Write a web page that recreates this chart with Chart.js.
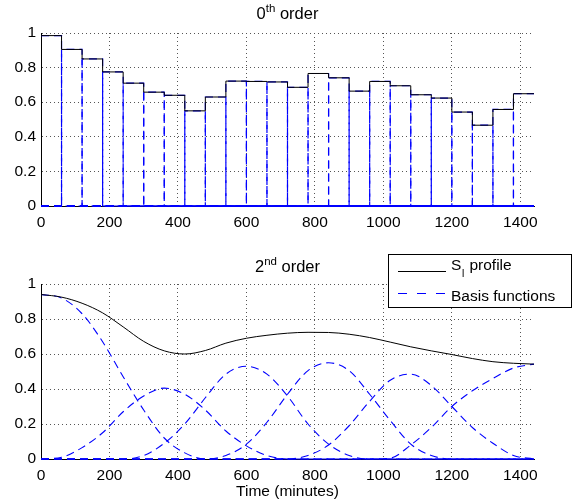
<!DOCTYPE html>
<html>
<head>
<meta charset="utf-8">
<script src="https://cdn.jsdelivr.net/npm/chart.js@4.4.0/dist/chart.umd.min.js"></script>
<style>
  html, body { margin: 0; padding: 0; background: #fff; }
  #wrap { position: relative; width: 574px; height: 504px; }
  canvas { position: absolute; left: 0; width: 574px; height: 252px; }
  #top { top: 0; }
  #bottom { top: 252px; }
</style>
</head>
<body>
<div id="wrap">
  <canvas id="top" width="574" height="252"></canvas>
  <canvas id="bottom" width="574" height="252"></canvas>
</div>
<script>
// 0th order: piecewise constant profile, one value per hour
const stepEdges = [0, 60, 120, 180, 240, 300, 360, 420, 480, 540, 600, 660, 720,
                   780, 840, 900, 960, 1020, 1080, 1140, 1200, 1260, 1320, 1380, 1440];
const stepValues = [0.985, 0.905, 0.85, 0.775, 0.71, 0.658, 0.64, 0.55, 0.63, 0.722, 0.72, 0.717,
                    0.686, 0.766, 0.741, 0.664, 0.72, 0.695, 0.643, 0.624, 0.543, 0.467, 0.558, 0.649];

// 2nd order: values every 60 minutes
const sampleTimes = [0, 60, 120, 180, 240, 300, 360, 420, 480, 540, 600, 660, 720,
                     780, 840, 900, 960, 1020, 1080, 1140, 1200, 1260, 1320, 1380, 1440];
const profile = [0.94, 0.925, 0.89, 0.835, 0.755, 0.672, 0.618, 0.60, 0.62, 0.662, 0.69, 0.707, 0.719,
                 0.724, 0.723, 0.713, 0.694, 0.668, 0.641, 0.618, 0.597, 0.574, 0.556, 0.547, 0.542];
const basis1 = [0.94, 0.92, 0.83, 0.67, 0.47, 0.28, 0.12, 0.035, 0, 0, 0, 0, 0,
                0, 0, 0, 0, 0, 0, 0, 0, 0, 0, 0, 0];
const basis2 = [0, 0.01, 0.065, 0.15, 0.27, 0.36, 0.405, 0.37, 0.28, 0.16, 0.075, 0.02, 0,
                0, 0, 0, 0, 0, 0, 0, 0, 0, 0, 0, 0];
const basis3 = [0, 0, 0, 0, 0, 0.02, 0.09, 0.2, 0.35, 0.485, 0.53, 0.485, 0.36,
                0.2, 0.085, 0.02, 0, 0, 0, 0, 0, 0, 0, 0, 0];
const basis4 = [0, 0, 0, 0, 0, 0, 0, 0, 0, 0.02, 0.085, 0.21, 0.37,
                0.505, 0.55, 0.505, 0.37, 0.22, 0.085, 0.02, 0, 0, 0, 0, 0];
const basis5 = [0, 0, 0, 0, 0, 0, 0, 0, 0, 0, 0, 0, 0,
                0.02, 0.08, 0.19, 0.33, 0.45, 0.485, 0.42, 0.30, 0.18, 0.09, 0.02, 0];
const basis6 = [0, 0, 0, 0, 0, 0, 0, 0, 0, 0, 0, 0, 0,
                0, 0, 0, 0, 0.005, 0.08, 0.18, 0.30, 0.39, 0.46, 0.52, 0.542];

const xTicks = [0, 200, 400, 600, 800, 1000, 1200, 1400];
const yTicks = [0, 0.2, 0.4, 0.6, 0.8, 1];

const FONT = '"Liberation Sans", Arial, Helvetica, sans-serif';
const BLUE = '#0000ff';
Chart.defaults.font.family = FONT;
Chart.defaults.font.size = 15.5;
Chart.defaults.color = '#000';

function scales(xHeight, withLabel) {
  return {
    x: {
      type: 'linear', min: 0, max: 1440,
      afterBuildTicks: s => { s.ticks = xTicks.map(v => ({ value: v })); },
      afterFit: s => { s.height = xHeight; },
      grid: { color: '#555', lineWidth: 1, drawTicks: false },
      border: { color: '#000', width: 1, dash: [1, 3] },
      ticks: { padding: 7, maxRotation: 0, autoSkip: false, color: '#000', callback: v => String(v) },
      title: { display: withLabel, text: 'Time (minutes)', color: '#000',
               font: { size: 15.5 }, padding: { top: 0, bottom: 3 } }
    },
    y: {
      min: 0, max: 1,
      afterBuildTicks: s => { s.ticks = yTicks.map(v => ({ value: v })); },
      afterFit: s => { s.width = 41; },
      grid: { color: '#555', lineWidth: 1, drawTicks: false },
      border: { color: '#000', width: 1, dash: [1, 3] },
      ticks: { padding: 5, color: '#000', callback: v => String(v) }
    }
  };
}

// title with a superscript, e.g. 0^th order
function supTitle(base, sup, rest, baseline) {
  return {
    id: 'supTitle',
    afterDraw(chart) {
      const ctx = chart.ctx;
      const big = '16.5px ' + FONT, small = '11.5px ' + FONT;
      ctx.save();
      ctx.fillStyle = '#000';
      ctx.textBaseline = 'alphabetic';
      ctx.textAlign = 'left';
      ctx.font = big;
      const w1 = ctx.measureText(base).width, w3 = ctx.measureText(rest).width;
      ctx.font = small;
      const w2 = ctx.measureText(sup).width;
      const { left, right } = chart.chartArea;
      let x = (left + right) / 2 - (w1 + w2 + w3) / 2;
      ctx.font = big; ctx.fillText(base, x, baseline); x += w1;
      ctx.font = small; ctx.fillText(sup, x, baseline - 7); x += w2;
      ctx.font = big; ctx.fillText(rest, x, baseline);
      ctx.restore();
    }
  };
}

const legendBox = {
  id: 'legendBox',
  afterDraw(chart) {
    const ctx = chart.ctx;
    ctx.save();
    ctx.fillStyle = '#fff';
    ctx.fillRect(388.5, 2.5, 183, 53);
    ctx.strokeStyle = '#000';
    ctx.lineWidth = 1;
    ctx.strokeRect(388.5, 2.5, 183, 53);

    ctx.beginPath();
    ctx.moveTo(398, 19.5); ctx.lineTo(446, 19.5);
    ctx.stroke();
    ctx.strokeStyle = BLUE;
    ctx.setLineDash([9, 10]);
    ctx.beginPath();
    ctx.moveTo(398, 41.5); ctx.lineTo(446, 41.5);
    ctx.stroke();
    ctx.setLineDash([]);

    ctx.fillStyle = '#000';
    ctx.textBaseline = 'alphabetic';
    ctx.font = '15.5px ' + FONT;
    let x = 451;
    ctx.fillText('S', x, 18);
    x += ctx.measureText('S').width;
    ctx.font = '10px ' + FONT;
    ctx.fillText('I', x + 0.5, 24.5);
    x += ctx.measureText('I').width + 1;
    ctx.font = '15.5px ' + FONT;
    ctx.fillText(' profile', x, 18);
    ctx.fillText('Basis functions', 451, 49);
    ctx.restore();
  }
};

// 0th order basis: each hour block as its own rectangle pulse
const stepSets = stepValues.map((v, i) => {
  const a = stepEdges[i], b = stepEdges[i + 1];
  const pts = [];
  if (a > 0) pts.push({ x: 0, y: 0 }, { x: a, y: 0 });
  pts.push({ x: a, y: v }, { x: b, y: v });
  if (b < 1440) pts.push({ x: b, y: 0 }, { x: 1440, y: 0 });
  return { data: pts, borderColor: BLUE, borderWidth: 1.2, borderDash: [8, 5], pointRadius: 0, clip: false };
});
const stepLine = stepEdges.map((t, i) => ({ x: t, y: stepValues[Math.min(i, stepValues.length - 1)] }));

new Chart(document.getElementById('top'), {
  type: 'line',
  data: {
    datasets: [
      { data: stepLine, stepped: 'before', borderColor: '#000', borderWidth: 1, pointRadius: 0, clip: false },
      ...stepSets
    ]
  },
  options: {
    responsive: false, animation: false, devicePixelRatio: 1,
    layout: { padding: { top: 33, right: 40, left: 0, bottom: 0 } },
    plugins: { legend: { display: false }, tooltip: { enabled: false } },
    scales: scales(46, false)
  },
  plugins: [supTitle('0', 'th', ' order', 19)]
});

const pair = ys => sampleTimes.map((t, i) => ({ x: t, y: ys[i] }));
const smooth = (ys, color, dash) => ({
  data: pair(ys), borderColor: color, borderWidth: dash ? 1.1 : 1, borderDash: dash || [],
  pointRadius: 0, cubicInterpolationMode: 'monotone', clip: false
});

new Chart(document.getElementById('bottom'), {
  type: 'line',
  data: {
    datasets: [
      smooth(profile, '#000'),
      ...[basis1, basis2, basis3, basis4, basis5, basis6].map(b => smooth(b, BLUE, [8, 5]))
    ]
  },
  options: {
    responsive: false, animation: false, devicePixelRatio: 1,
    layout: { padding: { top: 32, right: 40, left: 0, bottom: 0 } },
    plugins: { legend: { display: false }, tooltip: { enabled: false } },
    scales: scales(45, true)
  },
  plugins: [supTitle('2', 'nd', ' order', 19.5), legendBox]
});
</script>
</body>
</html>
